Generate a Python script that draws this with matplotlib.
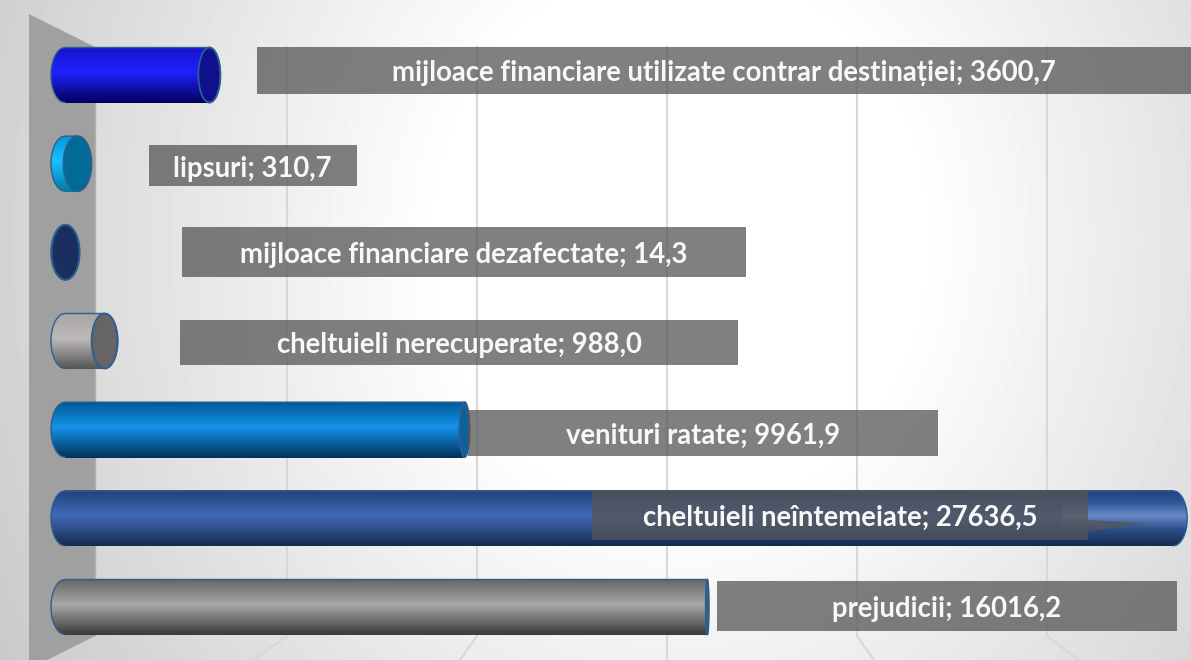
import numpy as np
from matplotlib import pyplot as plt
from matplotlib.colors import LinearSegmentedColormap
from matplotlib.patches import Rectangle, Polygon

plt.rcParams['font.family'] = ['Lato', 'DejaVu Sans']

# date, de jos in sus
categorii = ['prejudicii', 'cheltuieli neîntemeiate', 'venituri ratate', 'cheltuieli nerecuperate',
             'mijloace financiare dezafectate', 'lipsuri', 'mijloace financiare utilizate contrar destinației']
valori = [16016.2, 27636.5, 9961.9, 988.0, 14.3, 310.7, 3600.7]

# stil: jos, mijloc, sus, capac
culori = [('#3a3a3a', '#a8a8a8', '#666666', '#5a5a5a'),
          ('#14294f', '#4169b6', '#22427c', '#22427c'),
          ('#00335a', '#1592ea', '#005a96', '#0f5f9a'),
          ('#555555', '#bdb9b9', '#a9a5a5', '#666464'),
          ('#1a2f5f', '#1a2f5f', '#1a2f5f', '#1a2f5f'),
          ('#0079a5', '#19c1ff', '#0098d8', '#006b96'),
          ('#00005c', '#2020ff', '#1414cc', '#10108c')]
capac_px = [1.5, 0, 5, 13, 14, 14, 11]
# casetele etichetelor: x0, x1, y0, y1 (pixeli)
casete = [(717, 1177, 581, 631), (592, 1088, 490, 540), (468, 938, 410, 456), (180, 738, 320, 365),
          (182, 746, 227, 277), (149, 357, 145, 186), (257, 1191, 47, 94)]
text_cx = [947, 840, 703, 459, 464, 252, 724]
grila_px = [287, 477, 667, 857, 1047]
grila_jos = [253, 460, 667, 874, 1079]

W, H = 1191, 660
fig = plt.figure(figsize=(W / 100, H / 100), dpi=100)

# fundal in pixeli
bg = fig.add_axes([0, 0, 1, 1])
bg.set_xlim(0, W)
bg.set_ylim(H, 0)
bg.axis('off')
xx, yy = np.meshgrid(np.arange(W), np.arange(H))
dist = np.hypot(xx - 680, (yy - 240) * 0.9)
gri = np.clip(255 - 0.1 * np.maximum(dist - 240, 0), 0, 255) / 255
bg.imshow(gri, cmap='gray', vmin=0, vmax=1, extent=(0, W, H, 0), aspect='auto')
bg.add_patch(Polygon([(29, 14), (95, 47), (95, 636), (47, 660), (29, 660)], fc='#a0a0a0', ec='none'))
bg.plot([95, 95], [47, 636], color='#b0b0b0', lw=1)
for x0, x1 in zip(grila_px, grila_jos):
    bg.plot([x0, x0, x1], [47, 636, 660], color='#d8d8d8', lw=1.5)

# graficul propriu-zis
ax = fig.add_axes([0, 0, 1, 1])
ax.patch.set_alpha(0)
ax.axis('off')
px_unit = 0.0401
ax.set_xlim(-65 / px_unit, (W - 65) / px_unit)
ax.set_ylim(-0.598, 6.846)
h = 27.5 / 88.67
hw = 14 / px_unit

t = np.linspace(-1, 1, 81)
s = np.sqrt(1 - t ** 2)
u = np.linspace(0, 2 * np.pi, 100)
for i, (v, c, cap) in enumerate(zip(valori, culori, capac_px)):
    cmap = LinearSegmentedColormap.from_list('c', [(0, c[0]), (0.55, c[1]), (1, c[2])])
    cw = cap / px_unit
    dr = (cw if cap else hw)
    st = -hw * s
    dr_x = v + dr * s
    ax.barh(i + t * h, dr_x - st, height=h / 30, left=st, color=[cmap((a + 1) / 2) for a in t], lw=0)
    if not cap:
        # lumina de la capatul barei lungi
        sus = [(1, 1, 1, 0.2 * max(0, 1 - abs(a - 0.1) / 0.5)) for a in t]
        ax.barh(i + t * h, dr_x - v * 0.9, height=h / 40, left=v * 0.9, color=sus, lw=0)
    # contur
    ax.plot(np.r_[dr_x, st[::-1]], np.r_[i + t * h, i + t[::-1] * h], color='#2b5f90', lw=1)
    if cap:
        ax.fill(v + cw * np.cos(u), i + h * np.sin(u), fc=c[3], ec='#2b5f90', lw=1.3)

# etichete
ov = fig.add_axes([0, 0, 1, 1])
ov.patch.set_alpha(0)
ov.axis('off')
ov.set_xlim(0, W)
ov.set_ylim(H, 0)
for cat, v, (x0, x1, y0, y1), cx in zip(categorii, valori, casete, text_cx):
    ov.add_patch(Rectangle((x0, y0), x1 - x0, y1 - y0, fc='#555555', alpha=0.75, ec='none'))
    txt = f'{cat}; {v:.1f}'.replace('.', ',')
    ov.text(cx, (y0 + y1) / 2 + 3, txt, color='#f8f8f8', fontsize=19.8, fontweight='bold', ha='center', va='center')
ov.add_patch(Polygon([(1088, 520), (1147, 523), (1088, 532)], fc='#555555', alpha=0.75, ec='none'))

fig.savefig('out.png', dpi=100)
